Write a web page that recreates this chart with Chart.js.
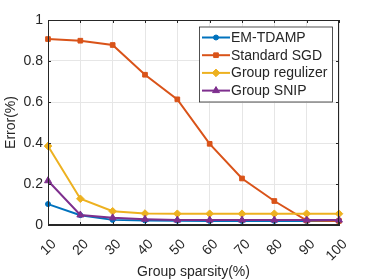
<!DOCTYPE html>
<html>
<head>
<meta charset="utf-8">
<script src="https://cdn.jsdelivr.net/npm/chart.js@4"></script>
<style>
  html, body { margin: 0; padding: 0; background: #fff; }
  #wrap { width: 374px; height: 280px; }
</style>
</head>
<body>
<div id="wrap"><canvas id="errChart" width="374" height="280"></canvas></div>
<script>
const sparsity = ['10', '20', '30', '40', '50', '60', '70', '80', '90', '100'];
const emTdamp = [0.102, 0.048, 0.025, 0.022, 0.021, 0.02, 0.02, 0.02, 0.02, 0.02];
const standardSgd = [0.907, 0.899, 0.878, 0.733, 0.613, 0.396, 0.227, 0.117, 0.022, 0.02];
const groupRegulizer = [0.385, 0.128, 0.067, 0.056, 0.055, 0.055, 0.055, 0.055, 0.055, 0.055];
const groupSnip = [0.216, 0.049, 0.035, 0.028, 0.024, 0.024, 0.024, 0.024, 0.024, 0.024];
const yTicks = [0, 0.2, 0.4, 0.6, 0.8, 1];

const FONT = '"Liberation Sans", Arial, Helvetica, sans-serif';
const AXIS = '#262626';

// matlab-ish box with inward ticks + legend in the upper right
const boxPlugin = {
  id: 'box',
  afterDatasetsDraw(chart) {
    const { ctx, chartArea: a, scales } = chart;
    ctx.save();
    ctx.strokeStyle = AXIS;
    ctx.lineWidth = 1;
    ctx.strokeRect(a.left + 0.5, a.top + 0.5, a.right - a.left - 1, a.bottom - a.top - 1);
    const tl = 3;
    ctx.beginPath();
    sparsity.forEach((s, i) => {
      const x = Math.round(scales.x.getPixelForValue(i)) + 0.5;
      ctx.moveTo(x, a.bottom); ctx.lineTo(x, a.bottom - tl);
      ctx.moveTo(x, a.top); ctx.lineTo(x, a.top + tl);
    });
    yTicks.forEach(v => {
      const y = Math.round(scales.y.getPixelForValue(v)) + 0.5;
      ctx.moveTo(a.left, y); ctx.lineTo(a.left + tl, y);
      ctx.moveTo(a.right, y); ctx.lineTo(a.right - tl, y);
    });
    ctx.stroke();

    // legend
    const bw = 133, bh = 75;
    const bx = a.right - 7 - bw, by = a.top + 6.5;
    ctx.fillStyle = '#fff';
    ctx.fillRect(bx, by, bw, bh);
    ctx.strokeStyle = AXIS;
    ctx.lineWidth = 0.8;
    ctx.strokeRect(bx + 0.5, by + 0.5, bw, bh);
    ctx.font = '14px ' + FONT;
    ctx.textBaseline = 'middle';
    chart.data.datasets.forEach((ds, i) => {
      const cy = by + 11 + i * 17.7;
      ctx.strokeStyle = ds.borderColor;
      ctx.lineWidth = 2;
      ctx.beginPath();
      ctx.moveTo(bx + 3, cy); ctx.lineTo(bx + 31, cy);
      ctx.stroke();
      ctx.fillStyle = ds.borderColor;
      ctx.lineWidth = 1;
      Chart.helpers.drawPoint(ctx, {
        pointStyle: ds.pointStyle, radius: ds.pointRadius, rotation: 0, borderWidth: 1
      }, bx + 17, cy);
      ctx.fillStyle = AXIS;
      ctx.fillText(ds.label, bx + 32, cy + 0.5);
    });
    ctx.restore();
  }
};

function line(label, data, color, style, radius, order) {
  return {
    label: label,
    data: data,
    order: order,
    borderColor: color,
    backgroundColor: color,
    borderWidth: 2,
    pointStyle: style,
    pointRadius: radius,
    pointBorderWidth: 1,
    pointBackgroundColor: color,
    pointBorderColor: color,
    tension: 0
  };
}

new Chart(document.getElementById('errChart').getContext('2d'), {
  type: 'line',
  data: {
    labels: sparsity,
    datasets: [
      line('EM-TDAMP', emTdamp, '#0072BD', 'circle', 2.5, 4),
      line('Standard SGD', standardSgd, '#D95319', 'rect', 3.3, 3),
      line('Group regulizer', groupRegulizer, '#EDB120', 'rectRot', 3.8, 2),
      line('Group SNIP', groupSnip, '#7E2F8E', 'triangle', 4, 1)
    ]
  },
  plugins: [boxPlugin],
  options: {
    responsive: false,
    animation: false,
    layout: { padding: { left: 0, right: 35, top: 20, bottom: 0 } },
    plugins: { legend: { display: false }, tooltip: { enabled: false } },
    scales: {
      x: {
        type: 'category',
        offset: false,
        grid: { color: '#e6e6e6', drawTicks: false },
        border: { color: AXIS },
        ticks: {
          autoSkip: false, minRotation: 45, maxRotation: 45, padding: 11, labelOffset: 6,
          color: AXIS, font: { family: FONT, size: 14 }
        },
        title: {
          display: true, text: 'Group sparsity(%)', color: AXIS,
          font: { family: FONT, size: 14 }, padding: { top: 0, bottom: -1 }
        },
        afterFit(s) { s.height = 55; }
      },
      y: {
        min: 0, max: 1,
        afterBuildTicks(s) { s.ticks = yTicks.map(v => ({ value: v })); },
        grid: { color: '#e6e6e6', drawTicks: false },
        border: { color: AXIS },
        ticks: {
          padding: 5, color: AXIS, font: { family: FONT, size: 14 },
          callback: v => String(Math.round(v * 10) / 10)
        },
        title: {
          display: true, text: 'Error(%)', color: AXIS,
          font: { family: FONT, size: 14 }, padding: { top: 3, bottom: 0 }
        },
        afterFit(s) { s.width = 48; }
      }
    }
  }
});
</script>
</body>
</html>
